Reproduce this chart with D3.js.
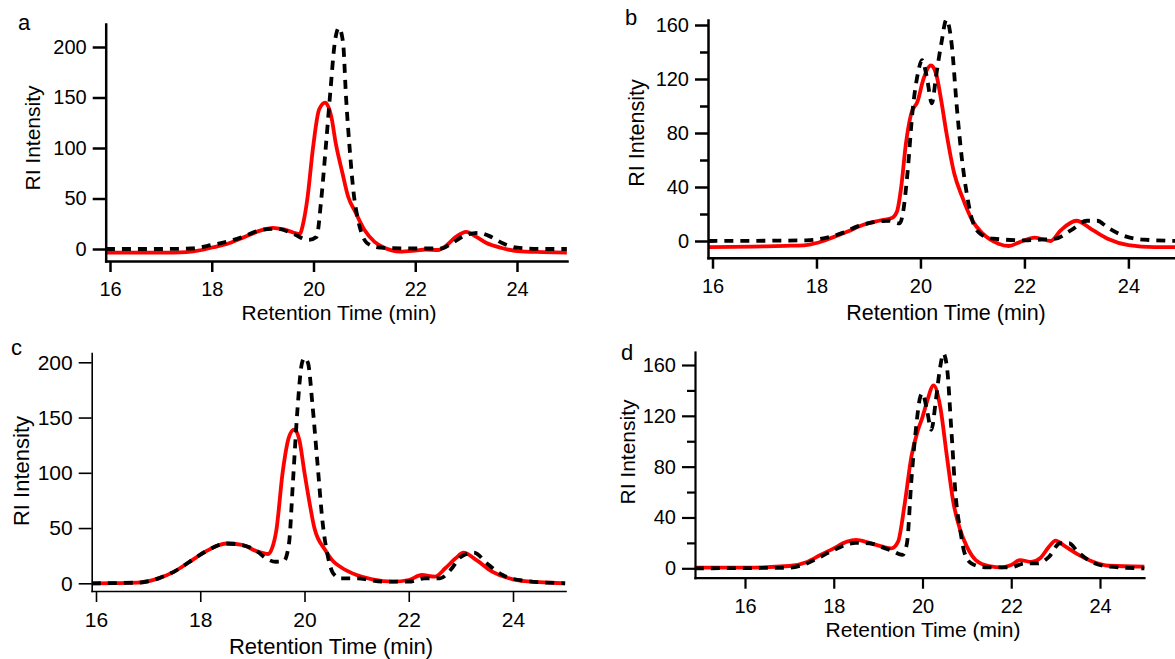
<!DOCTYPE html>
<html>
<head>
<meta charset="utf-8">
<script src="https://cdn.jsdelivr.net/npm/d3@7"></script>
<style>
  body { margin: 0; background: #fff; }
  text { font-family: "Liberation Sans", Arial, Helvetica, sans-serif; fill: #000; }
</style>
</head>
<body>
<script>
// retention time (min), RI intensity
const aRed = [[15.92,-3.5],[16.5,-3.5],[17,-3.5],[17.5,-3],[17.8,-1],[18,1.5],[18.3,5],[18.6,11],[19,19],[19.2,21],[19.45,19],[19.73,15],[19.8,26],[19.88,50],[19.99,100],[20.11,138],[20.23,145],[20.35,131],[20.44,104],[20.57,75],[20.68,52],[20.82,37],[21,19],[21.2,7],[21.4,1],[21.7,-2.5],[22,-1.5],[22.2,-0.5],[22.45,-1],[22.6,3],[22.8,12],[23,17],[23.2,12],[23.4,6],[23.7,1],[24,-2],[24.5,-3],[24.98,-3.5]];
const aBlack = [[15.92,0],[17,0],[17.6,0.5],[18,4],[18.5,10],[19,19],[19.3,20],[19.6,15],[19.9,9],[20.06,12],[20.15,48],[20.24,100],[20.33,155],[20.42,205],[20.5,219],[20.58,205],[20.64,150],[20.71,100],[20.79,55],[20.87,30],[20.95,15],[21.05,6],[21.3,1.5],[22,0.5],[22.5,0.5],[22.7,5],[23,14],[23.25,16],[23.45,13],[23.72,5.6],[24,1.3],[24.5,0],[24.98,0]];

const bRed = [[15.92,-4.5],[17,-4],[17.5,-3.5],[17.8,-3],[18,-1.5],[18.3,2.5],[18.6,7],[18.9,12],[19.2,15],[19.45,17],[19.55,22],[19.63,40],[19.72,72],[19.82,94],[19.95,104],[20.05,119],[20.2,130],[20.3,124],[20.4,104],[20.5,80],[20.65,50],[20.8,33],[21,15],[21.2,5.4],[21.5,-2],[21.7,-3.7],[21.9,-1],[22.2,2.5],[22.5,0],[22.7,8],[23,15],[23.3,8.4],[23.6,1.7],[24,-3],[24.5,-4.5],[25,-4.5]];
const bBlack = [[15.92,0],[17.8,0.5],[18.2,2.5],[18.5,6],[18.8,11],[19.1,14],[19.4,15],[19.6,13],[19.66,20],[19.75,50],[19.85,97],[19.95,124],[20.03,134],[20.12,122],[20.22,102],[20.3,122],[20.4,146],[20.5,164],[20.6,146],[20.7,99],[20.8,60],[20.9,33],[21,15],[21.15,5.4],[21.4,1.7],[22,0.5],[22.3,1],[22.6,1.7],[22.9,8],[23.2,15],[23.4,15],[23.6,10],[23.9,4],[24.3,1],[25,0]];

const cRed = [[15.92,0],[16.8,0.6],[17.2,4.5],[17.5,10.6],[17.8,19.6],[18.1,28.7],[18.5,36],[18.8,34.7],[19.1,28.7],[19.3,26.5],[19.38,32],[19.46,48],[19.58,100],[19.7,132],[19.8,139],[19.9,130],[20,100],[20.1,72],[20.19,50],[20.4,30],[20.55,20],[20.7,14.5],[21,7.5],[21.3,3.6],[21.7,1.5],[22,3],[22.25,7.5],[22.5,6],[22.7,13.6],[22.9,22.6],[23.05,27.7],[23.3,21],[23.6,10.6],[24,3.6],[24.5,1],[25,0]];
const cBlack = [[15.92,0],[16.8,0.6],[17.2,4.5],[17.5,10.6],[17.8,19.6],[18.1,28.7],[18.5,36],[18.8,34.7],[19.1,28.7],[19.25,23],[19.45,19.5],[19.6,20],[19.7,35],[19.78,93],[19.86,154],[19.95,199],[20,204],[20.07,199],[20.15,163],[20.25,108],[20.35,54],[20.45,24],[20.55,9],[20.7,4.5],[21,4.5],[21.5,1.5],[22,1.5],[22.3,4.5],[22.6,4.5],[22.8,12],[23,24],[23.25,27.7],[23.5,18],[23.8,7.5],[24.2,2.4],[25,0]];

const dRed = [[14.87,0.5],[16,0.5],[17,1.8],[17.4,5],[17.7,10.5],[18,15.7],[18.3,21],[18.5,22.3],[18.8,20],[19.1,17],[19.3,15.7],[19.45,21],[19.6,51],[19.75,88],[19.9,109],[20,119],[20.1,131],[20.25,144],[20.4,127],[20.55,88],[20.7,51],[20.85,30],[21,17],[21.2,6.5],[21.5,1.8],[21.8,0.8],[22,2.6],[22.2,6.5],[22.45,5],[22.65,7.9],[22.85,17],[23,21.8],[23.2,17.6],[23.5,11],[23.8,5.8],[24.2,2],[25,1.3]];
const dBlack = [[14.87,0],[17,0.5],[17.3,2.6],[17.7,9],[18,14.4],[18.5,20],[18.8,19.7],[19.1,16.5],[19.3,14],[19.55,10.5],[19.65,19.7],[19.75,69.5],[19.85,109],[19.95,135],[20,137.7],[20.1,124.6],[20.2,109],[20.3,132],[20.4,158.7],[20.47,169],[20.55,158.7],[20.65,109],[20.75,56],[20.85,30],[20.95,11.8],[21.1,3.9],[21.4,0.8],[22,0.8],[22.3,3.9],[22.6,3.9],[22.85,9],[23.1,19.7],[23.3,19.7],[23.5,13],[23.8,5.2],[24.2,1.3],[25,0]];

const xTicks = [16, 18, 20, 22, 24];
const yTicksAC = [0, 50, 100, 150, 200];
const yTicksBD = [0, 40, 80, 120, 160];
const yMinorBD = [20, 60, 100, 140];

const panels = [
  {label:"a", red:aRed, black:aBlack, yTicks:yTicksAC, yMinor:[],
   px16:110, px24:517, left:105.7, right:567, zero:249, topVal:200, topPx:47, bottom:261, top:24,
   lw:2.5, tickFs:20, titleFs:21, lab:[18,30], yTitle:[40,138], xTitle:[339,320]},
  {label:"b", red:bRed, black:bBlack, yTicks:yTicksBD, yMinor:yMinorBD,
   px16:712.5, px24:1128.4, left:708, right:1181, zero:241, topVal:160, topPx:25, bottom:257.7, top:20,
   lw:2.5, tickFs:20, titleFs:21.5, lab:[625,25], yTitle:[644,133], xTitle:[946,320]},
  {label:"c", red:cRed, black:cBlack, yTicks:yTicksAC, yMinor:[],
   px16:96, px24:513, left:91.7, right:565.5, zero:583.3, topVal:200, topPx:362.3, bottom:591, top:353,
   lw:1.6, tickFs:21, titleFs:22, lab:[11,355], yTitle:[29,471], xTitle:[331,654]},
  {label:"d", red:dRed, black:dBlack, yTicks:yTicksBD, yMinor:yMinorBD,
   px16:745, px24:1100, left:695, right:1144, zero:568.3, topVal:160, topPx:365, bottom:577.7, top:352,
   lw:2.2, tickFs:20, titleFs:21, lab:[621,360], yTitle:[635,452], xTitle:[923,637]}
];

const svg = d3.select("body").append("svg")
    .attr("width", 1175)
    .attr("height", 659);

function drawPanel(p) {
  let x = d3.scaleLinear().domain([16, 24]).range([p.px16, p.px24]);
  x.domain([x.invert(p.left), x.invert(p.right)]).range([p.left, p.right]);
  let y = d3.scaleLinear().domain([0, p.topVal]).range([p.zero, p.topPx]);
  y.domain([y.invert(p.bottom), y.invert(p.top)]).range([p.bottom, p.top]);

  let g = svg.append("g").attr("class", "panel-" + p.label);

  let line = d3.line()
      .x(d => x(d[0]))
      .y(d => y(d[1]))
      .curve(d3.curveMonotoneX);

  g.append("path")
      .datum(p.red)
      .attr("d", line)
      .attr("fill", "none")
      .attr("stroke", "#ff0000")
      .attr("stroke-width", 3.8)
      .attr("stroke-linejoin", "round");

  g.append("path")
      .datum(p.black)
      .attr("d", line)
      .attr("fill", "none")
      .attr("stroke", "#000")
      .attr("stroke-width", 3.8)
      .attr("stroke-dasharray", "9,7");

  // minor ticks (b, d)
  if (p.yMinor.length) {
    g.append("g")
        .attr("transform", `translate(${p.left},0)`)
        .call(d3.axisLeft(y).tickValues(p.yMinor).tickSize(8).tickFormat(""))
        .call(a => a.select(".domain").remove())
        .selectAll("line").attr("stroke-width", p.lw);
  }

  let yAxis = g.append("g")
      .attr("transform", `translate(${p.left},0)`)
      .call(d3.axisLeft(y).tickValues(p.yTicks).tickSize(13).tickSizeOuter(0).tickPadding(6));
  let xAxis = g.append("g")
      .attr("transform", `translate(0,${p.bottom})`)
      .call(d3.axisBottom(x).tickValues(xTicks).tickSize(11).tickSizeOuter(0).tickPadding(10));

  [yAxis, xAxis].forEach(a => {
    a.attr("font-size", p.tickFs).attr("font-family", null);
    a.select(".domain").attr("stroke-width", p.lw).attr("stroke-linecap", "square");
    a.selectAll(".tick line").attr("stroke-width", p.lw);
  });

  g.append("text")
      .attr("x", p.lab[0]).attr("y", p.lab[1])
      .attr("font-size", 22)
      .text(p.label);

  g.append("text")
      .attr("transform", `translate(${p.yTitle[0]},${p.yTitle[1]}) rotate(-90)`)
      .attr("text-anchor", "middle")
      .attr("font-size", p.titleFs)
      .text("RI Intensity");

  g.append("text")
      .attr("x", p.xTitle[0]).attr("y", p.xTitle[1])
      .attr("text-anchor", "middle")
      .attr("font-size", p.titleFs)
      .text("Retention Time (min)");
}

panels.forEach(drawPanel);
</script>
</body>
</html>
